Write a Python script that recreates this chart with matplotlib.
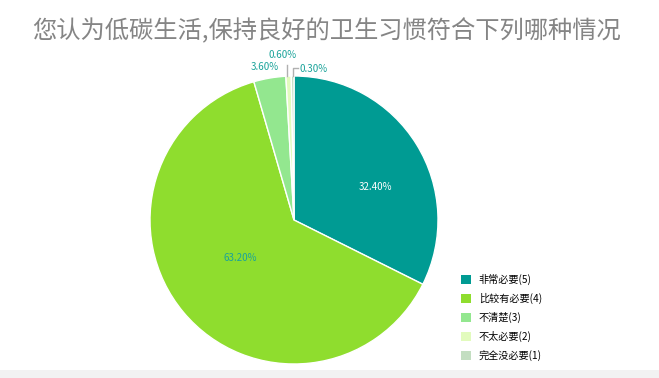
import numpy as np
import matplotlib.pyplot as plt
from matplotlib.patches import Patch

plt.rcParams['font.family'] = ['Noto Sans CJK SC', 'DejaVu Sans']

TITLE = "您认为低碳生活,保持良好的卫生习惯符合下列哪种情况"
CATEGORIES = ["非常必要(5)", "比较有必要(4)", "不清楚(3)", "不太必要(2)", "完全没必要(1)"]
PERCENTS = [32.4, 63.2, 3.6, 0.6, 0.3]
COLORS = ["#009b93", "#8fdd2e", "#93e78f", "#e2fbbd", "#c3dec1"]
LABEL_TEAL = "#1aa39a"

W, H = 659, 378
fig = plt.figure(figsize=(W / 100, H / 100), dpi=100)
fig.patch.set_facecolor("white")

# light strip at the bottom
fig.add_artist(plt.Rectangle((0, 0), 1, 8 / H, transform=fig.transFigure,
                             color="#f2f2f2", lw=0))

cx, cy, r = 294, 378 - 220, 144
ax = fig.add_axes([(cx - r) / W, (cy - r) / H, 2 * r / W, 2 * r / H])

wedges, _ = ax.pie(PERCENTS, colors=COLORS, startangle=90, counterclock=False,
                   radius=1, wedgeprops=dict(edgecolor="white", linewidth=1.0))
ax.set_xlim(-1, 1)
ax.set_ylim(-1, 1)
ax.axis("off")

def mid(i):
    w = wedges[i]
    return np.deg2rad((w.theta1 + w.theta2) / 2)

labels = [f"{p:.2f}%" for p in PERCENTS]
# big slices: inside labels
a = mid(0)
ax.text(0.6 * np.cos(a) + 0.055, 0.6 * np.sin(a) - 0.085, labels[0], color="white",
        fontsize=7, ha="center", va="center")
a = mid(1)
ax.text(0.55 * np.cos(a) + 0.05, 0.55 * np.sin(a) + 0.09, labels[1], color=LABEL_TEAL,
        fontsize=7, ha="center", va="center")
# small slices: outside labels
a = mid(2)
ax.text(1.07 * np.cos(a) - 0.025, 1.07 * np.sin(a) + 0.01, labels[2], color=LABEL_TEAL,
        fontsize=7, ha="center", va="center")
a = mid(3)
x0, y0 = np.cos(a), np.sin(a)
ax.plot([x0 - 0.01, x0 - 0.01], [y0, y0 + 0.08], color="#b0b0b0", lw=1, clip_on=False)
ax.text(x0 - 0.04, y0 + 0.15, labels[3], color=LABEL_TEAL, fontsize=7,
        ha="center", va="center")
a = mid(4)
x0, y0 = np.cos(a), np.sin(a)
ax.plot([x0, x0, x0 + 0.035], [y0, y0 + 0.055, y0 + 0.055], color="#b0b0b0", lw=1,
        clip_on=False)
ax.text(x0 + 0.05, y0 + 0.05, labels[4], color=LABEL_TEAL, fontsize=7,
        ha="left", va="center")

fig.text(0.5 - 3 / W, 1 - 31 / H, TITLE, ha="center", va="center", fontsize=17.5,
         color="#858585")

handles = [Patch(facecolor=c, edgecolor="none") for c in COLORS]
fig.legend(handles, CATEGORIES, loc="upper left", bbox_to_anchor=(456 / W, 1 - 269 / H),
           frameon=False, fontsize=7.3, handlelength=0.95, handleheight=0.95,
           labelspacing=0.78, handletextpad=0.8, borderpad=0)

fig.savefig("out.png", dpi=100)
